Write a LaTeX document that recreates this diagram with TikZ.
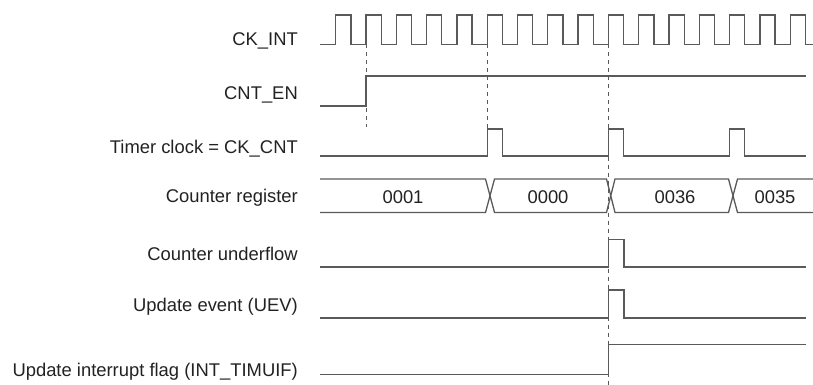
\documentclass[tikz,border=0pt]{standalone}
\usepackage{fontspec}
\setmainfont{Liberation Sans}
\definecolor{sigcol}{HTML}{5A5A5A}
\definecolor{txtcol}{HTML}{222222}
\begin{document}
\begin{tikzpicture}[x=1pt,y=-1pt,
  sig/.style={draw=sigcol,line width=1.3pt,line join=miter},
  guide/.style={draw=sigcol,line width=0.6pt,dash pattern=on 4pt off 4pt},
  lbl/.style={anchor=base east,inner sep=0pt,text=txtcol,font=\fontsize{18.4}{20}\selectfont},
  val/.style={anchor=base,inner sep=0pt,text=txtcol,font=\fontsize{18.4}{20}\selectfont}]
\useasboundingbox (0,0) rectangle (813,385);
% labels
\node[lbl] (l1) at (298,46) {CK\_INT};
\node[lbl] (l2) at (298,100) {CNT\_EN};
\node[lbl] (l3) at (298,153) {Timer clock = CK\_CNT};
\node[lbl] (l4) at (298,202) {Counter register};
\node[lbl] (l5) at (298,260) {Counter underflow};
\node[lbl] (l6) at (298,311) {Update event (UEV)};
\node[lbl] (l7) at (298,376) {Update interrupt flag (INT\_TIMUIF)};
% guides
\draw[guide] (366,44.5) -- (366,127);
\draw[guide] (487.2,44.5) -- (487.2,129);
\draw[guide] (608.4,44.5) -- (608.4,385);
% CK_INT
\draw[sig] (320,44.5) -- (335.7,44.5)
  \foreach \i in {0,...,15}{
    -- ++(0,-29.5) -- ++(15.15,0) -- ++(0,29.5) -- ++(15.15,0)
  };
% CNT_EN
\draw[sig] (320,106) -- (366,106) -- (366,76) -- (806,76);
% Timer clock
\draw[sig] (320,156) -- (487.2,156) -- ++(0,-27) -- ++(15.15,0) -- ++(0,27)
  -- (608.4,156) -- ++(0,-27) -- ++(15.15,0) -- ++(0,27)
  -- (729.6,156) -- ++(0,-27) -- ++(15.15,0) -- ++(0,27) -- (806,156);
% Counter register
\draw[sig] (320,179) -- (485.5,179) -- (494.5,212.5) -- (606.5,212.5) -- (615,179) -- (728.5,179) -- (737.5,212.5) -- (813,212.5);
\draw[sig] (320,212.5) -- (485.5,212.5) -- (494.5,179) -- (606.5,179) -- (615,212.5) -- (728.5,212.5) -- (737.5,179) -- (813,179);
\node[val] (v1) at (403,203) {0001};
\node[val] (v2) at (548,203) {0000};
\node[val] (v3) at (675,203) {0036};
\node[val] (v4) at (775,203) {0035};
% Counter underflow
\draw[sig] (320,267) -- (608.4,267) -- ++(0,-27.5) -- ++(15.6,0) -- ++(0,27.5) -- (806,267);
% Update event
\draw[sig] (320,318) -- (608.4,318) -- ++(0,-28) -- ++(15.6,0) -- ++(0,28) -- (806,318);
% Update interrupt flag
\draw[sig] (320,374.5) -- (608.4,374.5) -- (608.4,344.5) -- (806,344.5);
\end{tikzpicture}
\end{document}
